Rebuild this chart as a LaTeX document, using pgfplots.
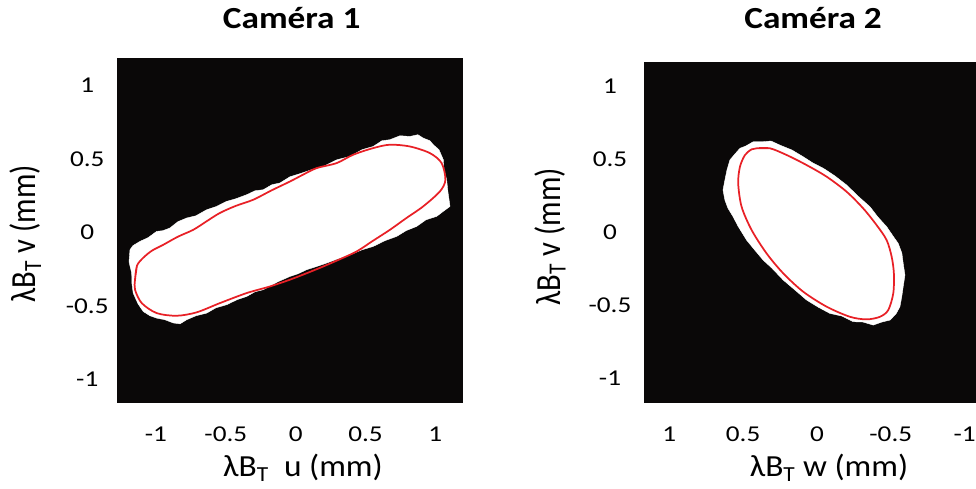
\documentclass[border=0pt]{standalone}
\usepackage{pgfplots}
\pgfplotsset{compat=1.18}
\usepackage{fontspec}
\setmainfont{Carlito}
\definecolor{bgblack}{RGB}{10,8,8}
\definecolor{cred}{RGB}{232,32,38}
\pgfplotsset{
  panel/.style={
    scale only axis,
    axis background/.style={fill=bgblack},
    axis line style={draw=none},
    major tick length=0pt,
    tick style={draw=none},
    xtick={-1,-0.5,0,0.5,1},
    ytick={-1,-0.5,0,0.5,1},
    /pgf/number format/assume math mode=true,
    tick label style={font=\fontsize{17}{17}\selectfont},
    xticklabel style={anchor=center, yshift=-23.5pt, xscale=1.2},
    label style={font=\fontsize{23}{23}\selectfont},
    xlabel style={anchor=base, xscale=1.09},
    ylabel style={anchor=base, yscale=1.15},
    title style={font=\bfseries\fontsize{23}{23}\selectfont, anchor=base, xscale=1.15},
  }
}
\begin{document}
\begin{tikzpicture}
\useasboundingbox (0,0) rectangle (732pt,366.75pt);
% ---------------- Camera 1 ----------------
\begin{axis}[panel,
  at={(87.75pt,64.7pt)}, anchor=south west,
  width=259.5pt, height=258.75pt,
  xmin=-1.279, xmax=1.198, ymin=-1.157, ymax=1.187,
  yticklabel style={anchor=center, xshift=-22.3pt, xscale=1.2},
  title={Caméra 1},
  title style={at={(axis description cs:0.505,1.061)}},
  xlabel={λB\textsubscript{T}\ \ u (mm)},
  xlabel style={at={(axis description cs:0.5376,-0.2145)}},
  ylabel={λB\textsubscript{T} v (mm)},
  ylabel style={at={(axis description cs:-0.236,0.490)}},
]
\addplot[fill=white, draw=white, line width=0.3pt] coordinates {
(-1.186,-0.118) (-1.165,-0.090) (-1.115,-0.061) (-1.057,-0.036) (-0.995,0.007)
(-0.950,0.012) (-0.900,0.030) (-0.843,0.073) (-0.780,0.098) (-0.714,0.113)
(-0.637,0.154) (-0.571,0.175) (-0.494,0.211) (-0.427,0.229) (-0.351,0.256)
(-0.291,0.283) (-0.232,0.290) (-0.170,0.324) (-0.112,0.336) (-0.041,0.378)
(0.031,0.399) (0.117,0.427) (0.198,0.448) (0.296,0.494) (0.389,0.516)
(0.475,0.562) (0.555,0.584) (0.618,0.623) (0.675,0.630) (0.747,0.657)
(0.818,0.652) (0.875,0.664) (0.913,0.641) (0.961,0.623) (0.985,0.596)
(1.026,0.562) (1.057,0.494) (1.062,0.426) (1.081,0.358) (1.090,0.276)
(1.105,0.177) (1.062,0.147) (1.009,0.109) (0.933,0.086) (0.866,0.041)
(0.790,0.012) (0.723,-0.027) (0.639,-0.056) (0.555,-0.095) (0.475,-0.118)
(0.389,-0.152) (0.303,-0.179) (0.222,-0.208) (0.145,-0.233) (0.079,-0.253)
(0.016,-0.281) (-0.041,-0.299) (-0.127,-0.335) (-0.232,-0.389) (-0.291,-0.403)
(-0.351,-0.435) (-0.420,-0.457) (-0.494,-0.491) (-0.571,-0.512) (-0.637,-0.548)
(-0.714,-0.566) (-0.780,-0.593) (-0.828,-0.621) (-0.876,-0.615) (-0.936,-0.593)
(-0.995,-0.582) (-1.043,-0.566) (-1.091,-0.537) (-1.129,-0.484) (-1.163,-0.412)
(-1.172,-0.348) (-1.174,-0.276) (-1.193,-0.199)
} -- cycle;
\addplot[cred, line width=1.3pt, smooth, tension=0.5] coordinates {
(-1.150,-0.321) (-1.136,-0.226) (-1.091,-0.172) (-1.029,-0.124) (-0.948,-0.084)
(-0.843,-0.029) (-0.733,0.018) (-0.642,0.073) (-0.543,0.132) (-0.427,0.181)
(-0.304,0.222) (-0.170,0.287) (-0.041,0.346) (0.052,0.392) (0.150,0.437)
(0.293,0.471) (0.412,0.528) (0.555,0.573) (0.675,0.596) (0.818,0.584)
(0.961,0.539) (1.045,0.471) (1.072,0.358) (1.033,0.279) (0.913,0.177)
(0.790,0.096) (0.675,0.018) (0.553,-0.057) (0.437,-0.129) (0.317,-0.182)
(0.198,-0.231) (0.079,-0.277) (-0.041,-0.321) (-0.184,-0.367) (-0.351,-0.412)
(-0.542,-0.480) (-0.709,-0.543) (-0.852,-0.566) (-0.995,-0.548) (-1.102,-0.480)
(-1.150,-0.389) (-1.150,-0.321) (-1.136,-0.226)
};
\end{axis}
% ---------------- Camera 2 ----------------
\begin{axis}[panel,
  at={(483.2pt,64.7pt)}, anchor=south west,
  width=248.8pt, height=255.3pt,
  x dir=reverse,
  xmin=-1.077, xmax=1.169, ymin=-1.170, ymax=1.166,
  yticklabel style={anchor=center, xshift=-25.7pt, xscale=1.2},
  title={Caméra 2},
  title style={at={(axis description cs:0.509,1.077)}},
  xlabel={λB\textsubscript{T} w (mm)},
  xlabel style={at={(axis description cs:0.557,-0.2174)}},
  ylabel={λB\textsubscript{T} v (mm)},
  ylabel style={at={(axis description cs:-0.254,0.488)}},
]
\addplot[fill=white, draw=white, line width=0.3pt] coordinates {
(0.431,0.621) (0.481,0.592) (0.521,0.576) (0.555,0.537) (0.589,0.496)
(0.609,0.427) (0.623,0.358) (0.636,0.290) (0.623,0.221) (0.603,0.166)
(0.567,0.106) (0.535,0.043) (0.476,-0.054) (0.427,-0.115) (0.364,-0.191)
(0.305,-0.246) (0.228,-0.328) (0.156,-0.390) (0.070,-0.465) (-0.007,-0.513)
(-0.088,-0.557) (-0.169,-0.575) (-0.246,-0.614) (-0.311,-0.616) (-0.381,-0.637)
(-0.440,-0.616) (-0.494,-0.603) (-0.535,-0.561) (-0.562,-0.511) (-0.575,-0.438)
(-0.584,-0.374) (-0.596,-0.294) (-0.584,-0.213) (-0.575,-0.143) (-0.550,-0.076)
(-0.515,-0.026) (-0.472,0.038) (-0.413,0.104) (-0.359,0.175) (-0.278,0.248)
(-0.201,0.324) (-0.122,0.386) (-0.043,0.439) (0.027,0.475) (0.093,0.518)
(0.169,0.564) (0.251,0.598) (0.311,0.626) (0.364,0.621)
} -- cycle;
\addplot[cred, line width=1.3pt, smooth, tension=0.5] coordinates {
(0.408,0.576) (0.318,0.576) (0.205,0.530) (0.070,0.461) (-0.066,0.381)
(-0.201,0.278) (-0.313,0.164) (-0.404,0.049) (-0.472,-0.054) (-0.506,-0.168)
(-0.521,-0.282) (-0.517,-0.419) (-0.483,-0.534) (-0.427,-0.580) (-0.336,-0.598)
(-0.223,-0.580) (-0.066,-0.511) (0.093,-0.408) (0.228,-0.282) (0.341,-0.145)
(0.442,0.015) (0.510,0.175) (0.533,0.336) (0.521,0.450) (0.487,0.530)
(0.442,0.569) (0.408,0.576) (0.318,0.576)
};
\end{axis}
\end{tikzpicture}
\end{document}
